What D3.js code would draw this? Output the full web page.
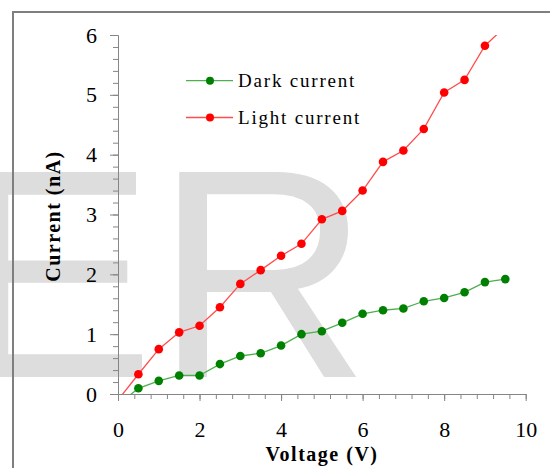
<!DOCTYPE html>
<html>
<head>
<meta charset="utf-8">
<script src="https://cdn.jsdelivr.net/npm/d3@7"></script>
<style>
  html, body { margin: 0; padding: 0; background: #fff; }
  svg { display: block; }
</style>
</head>
<body>
<svg id="chart" width="550" height="468"></svg>
<script>
// Measured I–V data: voltage (V) and current (nA)
const voltage = [0, 0.5, 1, 1.5, 2, 2.5, 3, 3.5, 4, 4.5, 5, 5.5, 6, 6.5, 7, 7.5, 8, 8.5, 9, 9.5];
const darkCurrent = [-0.18, 0.095, 0.22, 0.31, 0.31, 0.50, 0.635, 0.68, 0.81, 1.00, 1.05, 1.19, 1.34, 1.40, 1.43, 1.55, 1.605, 1.70, 1.87, 1.92];
const lightCurrent = [-0.10, 0.33, 0.75, 1.03, 1.14, 1.45, 1.84, 2.07, 2.31, 2.51, 2.92, 3.06, 3.40, 3.88, 4.07, 4.43, 5.04, 5.25, 5.82, 6.14];
const seriesNames = ["Dark current", "Light current"];
const xTicks = [0, 2, 4, 6, 8, 10];
const yTicks = [0, 1, 2, 3, 4, 5, 6];

const svg = d3.select("#chart");
const serif = "'Liberation Serif', 'Times New Roman', serif";

// Light grey lettering behind the chart
svg.append("text")
  .attr("x", -44).attr("y", 377)
  .attr("font-family", "'Liberation Sans', Arial, sans-serif")
  .attr("font-size", 298)
  .attr("fill", "#dddddd")
  .text("ER");

// Frame
svg.append("path")
  .attr("d", "M13,468V12H550")
  .attr("fill", "none")
  .attr("stroke", "#7f7f7f")
  .attr("stroke-width", 2);

const x = d3.scaleLinear().domain([0, 10]).range([118, 525.7]);
const y = d3.scaleLinear().domain([0, 6]).range([394, 35]);

const axisColor = "#858585";

// Minor ticks
const yMinor = svg.append("g").attr("transform", "translate(118,0)")
  .call(d3.axisLeft(y).tickValues(d3.range(0, 6.01, 0.2)).tickSize(5).tickSizeOuter(0).tickFormat(""));
const xMinor = svg.append("g").attr("transform", "translate(0,394)")
  .call(d3.axisBottom(x).tickValues(d3.range(0, 10.01, 0.4)).tickSize(5).tickSizeOuter(0).tickFormat(""));

// Major ticks with labels
const yAxis = svg.append("g").attr("transform", "translate(118,0)")
  .call(d3.axisLeft(y).tickValues(yTicks).tickSize(8).tickSizeOuter(0).tickPadding(13).tickFormat(d3.format("d")));
const xAxis = svg.append("g").attr("transform", "translate(0,394)")
  .call(d3.axisBottom(x).tickValues(xTicks).tickSize(7).tickSizeOuter(0).tickPadding(20).tickFormat(d3.format("d")));

[yMinor, xMinor, yAxis, xAxis].forEach(g => {
  g.attr("font-family", serif).attr("font-size", 22);
  g.selectAll("path, line").attr("stroke", axisColor).attr("stroke-width", 1);
  g.selectAll("text")
    .attr("font-family", serif)
    .attr("font-size", 22)
    .attr("fill", "#000");
});

// Axis titles
svg.append("text")
  .attr("transform", "translate(60,216) rotate(-90)")
  .attr("text-anchor", "middle")
  .attr("font-family", serif)
  .attr("font-weight", "bold")
  .attr("font-size", 20)
  .attr("letter-spacing", 1.5)
  .text("Current (nA)");

svg.append("text")
  .attr("x", 322).attr("y", 461)
  .attr("text-anchor", "middle")
  .attr("font-family", serif)
  .attr("font-weight", "bold")
  .attr("font-size", 20)
  .attr("letter-spacing", 1.5)
  .text("Voltage (V)");

// Plot-area clip
svg.append("clipPath").attr("id", "plotClip")
  .append("rect").attr("x", 118).attr("y", 35).attr("width", 407.7).attr("height", 359);

const series = [
  { name: seriesNames[0], values: darkCurrent, line: "#4caf50", dot: "#008000" },
  { name: seriesNames[1], values: lightCurrent, line: "#ff4d4d", dot: "#ff0000" }
];

const line = d3.line().x(d => x(d[0])).y(d => y(d[1]));

series.forEach(s => {
  const pts = voltage.map((v, i) => [v, s.values[i]]);
  svg.append("path")
    .datum(pts)
    .attr("clip-path", "url(#plotClip)")
    .attr("fill", "none")
    .attr("stroke", s.line)
    .attr("stroke-width", 1.3)
    .attr("d", line);
  svg.append("g").selectAll("circle")
    .data(pts.filter(p => p[0] > 0 && p[1] >= 0 && p[1] <= 6))
    .join("circle")
    .attr("cx", d => x(d[0]))
    .attr("cy", d => y(d[1]))
    .attr("r", 4.3)
    .attr("fill", s.dot);
});

// Legend
const legend = svg.append("g");
series.forEach((s, i) => {
  const ly = 80.7 + i * 36.8;
  legend.append("line")
    .attr("x1", 186).attr("x2", 233).attr("y1", ly).attr("y2", ly)
    .attr("stroke", s.line).attr("stroke-width", 1.3);
  legend.append("circle")
    .attr("cx", 210).attr("cy", ly).attr("r", 4)
    .attr("fill", s.dot);
  legend.append("text")
    .attr("x", 238).attr("y", ly + 6)
    .attr("font-family", serif)
    .attr("font-size", 19)
    .attr("letter-spacing", 1.8)
    .text(s.name);
});
</script>
</body>
</html>
